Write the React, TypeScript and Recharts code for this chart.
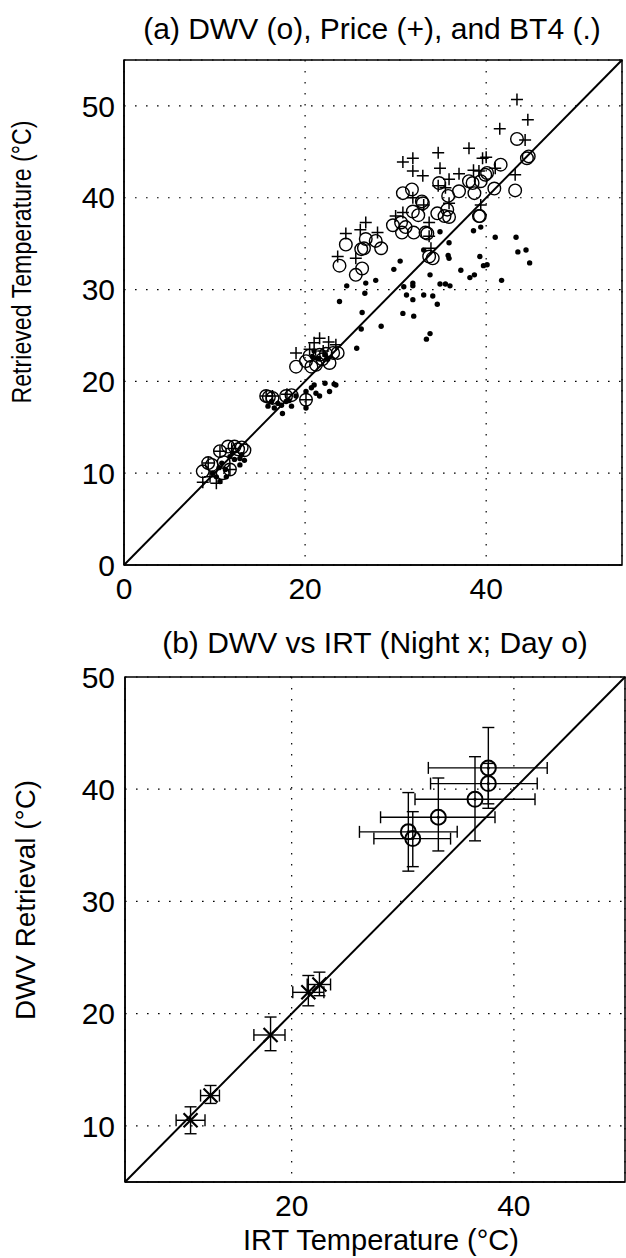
import React from "react"
import {
  ScatterChart,
  Scatter,
  XAxis,
  YAxis,
  CartesianGrid,
  ReferenceLine,
  ReferenceArea,
  ErrorBar
} from "recharts"

// panel (a): retrieved vs reference temperature, [x, y] pairs
const dwvPoints: [number, number][] = [
  [43.4, 46.4], [44.5, 44.3], [44.7, 44.5], [41.6, 43.6], [39.9, 42.5], [39.4, 41.8],
  [38.5, 41.6], [38.1, 41.8], [40.9, 41.0], [43.2, 40.8], [38.7, 40.5], [37.0, 40.7],
  [34.8, 41.6], [35.8, 40.2], [30.8, 40.5], [31.8, 40.9], [32.9, 39.6], [33.0, 39.4],
  [35.7, 38.7], [35.4, 38.0], [35.9, 37.9], [34.6, 38.3], [31.9, 38.5], [32.5, 38.1],
  [39.3, 38.0], [30.6, 37.3], [29.7, 37.0], [31.1, 36.8], [30.7, 36.2], [32.0, 36.2],
  [33.3, 36.2], [33.5, 36.1], [26.7, 35.5], [27.8, 35.3], [24.5, 34.9], [26.5, 34.5],
  [26.2, 34.4], [28.4, 34.5], [33.7, 33.6], [34.1, 33.4], [23.8, 32.6], [26.3, 32.3],
  [25.6, 31.6], [40.1, 42.7], [39.2, 38.0],
  [19.0, 21.6], [20.1, 22.2], [20.7, 21.6], [21.2, 21.8], [21.9, 22.4], [22.7, 22.0],
  [23.6, 23.1], [23.1, 23.1], [20.5, 22.8], [21.6, 22.9], [22.3, 23.0], [20.1, 18.0],
  [15.7, 18.4], [16.4, 18.2], [17.9, 18.4], [18.5, 18.5], [16.0, 18.3],
  [11.5, 12.9], [12.2, 12.9], [13.0, 12.8], [13.3, 12.5], [10.6, 12.4], [9.3, 11.1],
  [8.7, 10.2], [9.7, 10.9], [11.7, 10.4], [10.9, 10.0], [12.6, 12.6], [11.0, 11.2]
]

const pricePoints: [number, number][] = [
  [43.4, 50.7], [44.6, 48.5], [41.5, 47.5], [44.3, 46.3], [38.1, 45.4], [39.6, 44.3],
  [40.0, 44.4], [34.7, 44.9], [30.8, 43.9], [31.9, 44.3], [31.9, 42.9], [33.0, 42.4],
  [34.9, 43.2], [37.0, 42.6], [38.6, 43.0], [39.2, 42.9], [41.0, 43.2], [43.2, 42.5],
  [35.9, 42.0], [34.7, 41.3], [35.5, 41.1], [31.9, 40.0], [33.1, 39.2], [35.9, 39.4],
  [39.4, 39.2], [30.8, 38.4], [30.0, 38.0], [33.7, 37.3], [26.7, 37.3], [26.1, 36.5],
  [28.0, 36.2], [24.5, 36.1], [33.7, 35.8], [23.6, 33.6], [25.6, 33.4], [33.9, 34.5],
  [19.0, 23.1], [21.6, 24.7], [23.4, 24.0], [20.5, 23.5], [22.6, 24.3], [21.0, 24.2],
  [22.0, 23.3], [20.1, 18.0],
  [15.7, 18.4], [16.4, 18.4], [18.0, 18.6],
  [10.6, 12.4], [9.3, 11.1], [11.7, 10.4], [9.5, 9.6], [8.7, 9.0], [10.2, 8.9], [11.9, 12.7]
]

const bt4Points: [number, number][] = [
  [38.6, 36.4], [39.4, 36.8], [41.0, 35.7], [43.3, 35.7], [43.5, 34.1], [44.4, 34.3],
  [44.8, 32.9], [34.9, 36.3], [35.9, 35.1], [33.1, 34.3], [35.8, 33.7], [35.9, 33.4],
  [30.5, 33.1], [29.8, 32.2], [39.3, 33.6], [39.7, 32.6], [40.1, 32.7], [37.2, 32.1],
  [38.2, 31.3], [38.7, 31.6], [41.7, 31.0], [33.8, 31.6], [24.6, 30.4], [26.7, 30.7],
  [27.8, 31.0], [26.6, 29.6], [30.9, 30.3], [31.9, 30.7], [31.9, 30.4], [34.9, 30.6],
  [35.5, 30.6], [36.0, 30.4], [31.2, 29.4], [33.1, 29.4], [34.1, 29.3], [31.9, 28.9],
  [23.8, 28.7], [34.6, 28.4], [26.3, 27.5], [30.8, 27.4], [32.0, 27.1], [28.4, 26.0],
  [26.2, 25.7], [25.7, 23.6], [33.8, 25.2], [33.4, 24.6],
  [20.8, 22.7], [21.5, 22.5], [22.2, 22.9], [21.0, 23.3], [22.5, 22.4], [21.0, 19.6],
  [20.1, 18.9], [20.7, 19.3], [21.6, 18.4], [22.7, 18.9], [22.2, 19.8], [23.4, 19.6],
  [21.2, 18.7], [20.1, 17.1], [23.2, 19.7],
  [15.9, 17.3], [16.6, 17.1], [17.5, 16.5], [17.4, 17.4], [17.9, 17.8], [18.5, 17.3],
  [19.0, 18.4], [17.0, 17.6], [16.3, 17.8], [18.2, 17.9],
  [11.7, 11.8], [12.2, 11.5], [12.8, 11.6], [13.3, 11.4], [12.8, 10.9], [10.2, 9.6],
  [10.6, 9.1], [11.3, 9.6], [10.8, 11.1], [9.8, 10.0], [12.0, 12.2], [11.2, 10.4],
  [13.0, 12.0], [10.5, 10.6]
]

// panel (b): DWV vs IRT with error bars
const dayIrt = [37.7, 37.7, 36.5, 33.2, 30.5, 30.9]
const dayDwv = [41.9, 40.5, 39.1, 37.5, 36.2, 35.6]
const dayIrtLo = [32.3, 32.5, 31.1, 28.0, 26.1, 27.4]
const dayIrtHi = [43.0, 42.1, 41.9, 38.3, 34.9, 34.3]
const dayDwvLo = [38.3, 38.7, 35.4, 34.5, 32.7, 33.1]
const dayDwvHi = [45.5, 42.3, 42.9, 41.0, 39.7, 38.0]

const nightIrt = [10.9, 12.7, 18.1, 21.5, 22.5]
const nightDwv = [10.5, 12.7, 18.1, 21.9, 22.6]
const nightIrtLo = [9.6, 11.8, 16.6, 20.1, 21.4]
const nightIrtHi = [12.2, 13.5, 19.4, 22.9, 23.5]
const nightDwvLo = [9.3, 12.0, 16.7, 20.7, 21.6]
const nightDwvHi = [11.7, 13.6, 19.7, 23.4, 23.7]

const ticksA = [0, 20, 40]
const yTicksA = [0, 10, 20, 30, 40, 50]
const ticksB = [20, 40]
const yTicksB = [10, 20, 30, 40, 50]

const FONT = "'Liberation Sans', Arial, Helvetica, sans-serif"

const toXY = (pts: [number, number][]) => pts.map(([x, y]) => ({ x, y }))

const withErrors = (xs: number[], ys: number[], xLo: number[], xHi: number[], yLo: number[], yHi: number[]) =>
  xs.map((x, i) => ({
    x,
    y: ys[i],
    ex: [x - xLo[i], xHi[i] - x],
    ey: [ys[i] - yLo[i], yHi[i] - ys[i]]
  }))

const circleShape = (r: number, w: number) => (p: any) =>
  <circle cx={p.cx} cy={p.cy} r={r} fill="none" stroke="#000" strokeWidth={w} />

const plusShape = (p: any) => (
  <path
    d={`M${p.cx - 6},${p.cy}H${p.cx + 6}M${p.cx},${p.cy - 6}V${p.cy + 6}`}
    stroke="#000"
    strokeWidth={1.5}
    fill="none"
  />
)

const dotShape = (p: any) => <circle cx={p.cx} cy={p.cy} r={2.7} fill="#000" />

const dayShape = (p: any) => (
  <g>
    <circle cx={p.cx} cy={p.cy} r={7.5} fill="none" stroke="#000" strokeWidth={2} />
    <circle cx={p.cx} cy={p.cy} r={1.5} fill="#000" />
  </g>
)

const crossShape = (p: any) => (
  <path
    d={`M${p.cx - 7},${p.cy - 7}L${p.cx + 7},${p.cy + 7}M${p.cx - 7},${p.cy + 7}L${p.cx + 7},${p.cy - 7}`}
    stroke="#000"
    strokeWidth={2.2}
    fill="none"
  />
)

const tickStyle = { fill: "#000", fontSize: 30, fontFamily: FONT }

function PanelA() {
  return (
    <ScatterChart width={626} height={620} margin={{ top: 60, right: 4, left: 0, bottom: 0 }}>
      <CartesianGrid stroke="#000" strokeDasharray="1.6 9.4" strokeWidth={1.2} />
      <XAxis
        type="number"
        dataKey="x"
        domain={[0, 55]}
        ticks={ticksA}
        height={55}
        tickSize={0}
        tickMargin={13}
        axisLine={{ stroke: "#000", strokeWidth: 1.5 }}
        tick={tickStyle}
        allowDataOverflow
      />
      <YAxis
        type="number"
        dataKey="y"
        domain={[0, 55]}
        ticks={yTicksA}
        width={124}
        tickSize={0}
        tickMargin={9}
        axisLine={{ stroke: "#000", strokeWidth: 1.5 }}
        tick={tickStyle}
        allowDataOverflow
      />
      <ReferenceArea x1={0} x2={55} y1={0} y2={55} fill="none" stroke="#000" strokeWidth={1.5} />
      <ReferenceLine segment={[{ x: 0, y: 0 }, { x: 55, y: 55 }]} stroke="#000" strokeWidth={2} />
      <Scatter data={toXY(bt4Points)} shape={dotShape} isAnimationActive={false} />
      <Scatter data={toXY(dwvPoints)} shape={circleShape(6.3, 1.4)} isAnimationActive={false} />
      <Scatter data={toXY(pricePoints)} shape={plusShape} isAnimationActive={false} />
    </ScatterChart>
  )
}

function PanelB() {
  const day = withErrors(dayIrt, dayDwv, dayIrtLo, dayIrtHi, dayDwvLo, dayDwvHi)
  const night = withErrors(nightIrt, nightDwv, nightIrtLo, nightIrtHi, nightDwvLo, nightDwvHi)
  return (
    <ScatterChart width={626} height={638} margin={{ top: 57, right: 1, left: 0, bottom: 0 }}>
      <CartesianGrid stroke="#000" strokeDasharray="1.6 9.4" strokeWidth={1.2} />
      <XAxis
        type="number"
        dataKey="x"
        domain={[5, 50]}
        ticks={ticksB}
        height={76}
        tickSize={0}
        tickMargin={13}
        axisLine={{ stroke: "#000", strokeWidth: 1.5 }}
        tick={tickStyle}
        allowDataOverflow
      />
      <YAxis
        type="number"
        dataKey="y"
        domain={[5, 50]}
        ticks={yTicksB}
        width={125}
        tickSize={0}
        tickMargin={10}
        axisLine={{ stroke: "#000", strokeWidth: 1.5 }}
        tick={tickStyle}
        allowDataOverflow
      />
      <ReferenceArea x1={5} x2={50} y1={5} y2={50} fill="none" stroke="#000" strokeWidth={1.5} />
      <ReferenceLine segment={[{ x: 5, y: 5 }, { x: 50, y: 50 }]} stroke="#000" strokeWidth={2} />
      <Scatter data={day} shape={dayShape} isAnimationActive={false}>
        <ErrorBar dataKey="ex" direction="x" width={6} stroke="#000" strokeWidth={1.4} />
        <ErrorBar dataKey="ey" direction="y" width={6} stroke="#000" strokeWidth={1.4} />
      </Scatter>
      <Scatter data={night} shape={crossShape} isAnimationActive={false}>
        <ErrorBar dataKey="ex" direction="x" width={6} stroke="#000" strokeWidth={1.4} />
        <ErrorBar dataKey="ey" direction="y" width={6} stroke="#000" strokeWidth={1.4} />
      </Scatter>
    </ScatterChart>
  )
}

export default function App() {
  return (
    <div style={{ position: "absolute", left: 0, top: 0, width: 626, height: 1258, background: "#fff" }}>
      <div style={{ position: "absolute", left: 0, top: 0 }}>
        <PanelA />
      </div>
      <div style={{ position: "absolute", left: 0, top: 620 }}>
        <PanelB />
      </div>
      <svg
        width={626}
        height={1258}
        style={{ position: "absolute", left: 0, top: 0, pointerEvents: "none" }}
        fontFamily={FONT}
        fill="#000"
      >
        <text x={372} y={39} fontSize={30} textAnchor="middle">
          (a) DWV (o), Price (+), and BT4 (.)
        </text>
        <text
          transform="translate(31,262) rotate(-90)"
          fontSize={27}
          textAnchor="middle"
          textLength={283}
          lengthAdjust="spacingAndGlyphs"
        >
          Retrieved Temperature (°C)
        </text>
        <text x={375} y={653} fontSize={30} textAnchor="middle">
          (b) DWV vs IRT (Night x; Day o)
        </text>
        <text
          transform="translate(35,900) rotate(-90)"
          fontSize={28}
          textAnchor="middle"
          textLength={240}
          lengthAdjust="spacingAndGlyphs"
        >
          DWV Retrieval (°C)
        </text>
        <text x={381} y={1250} fontSize={29} textAnchor="middle">
          IRT Temperature (°C)
        </text>
      </svg>
    </div>
  )
}
